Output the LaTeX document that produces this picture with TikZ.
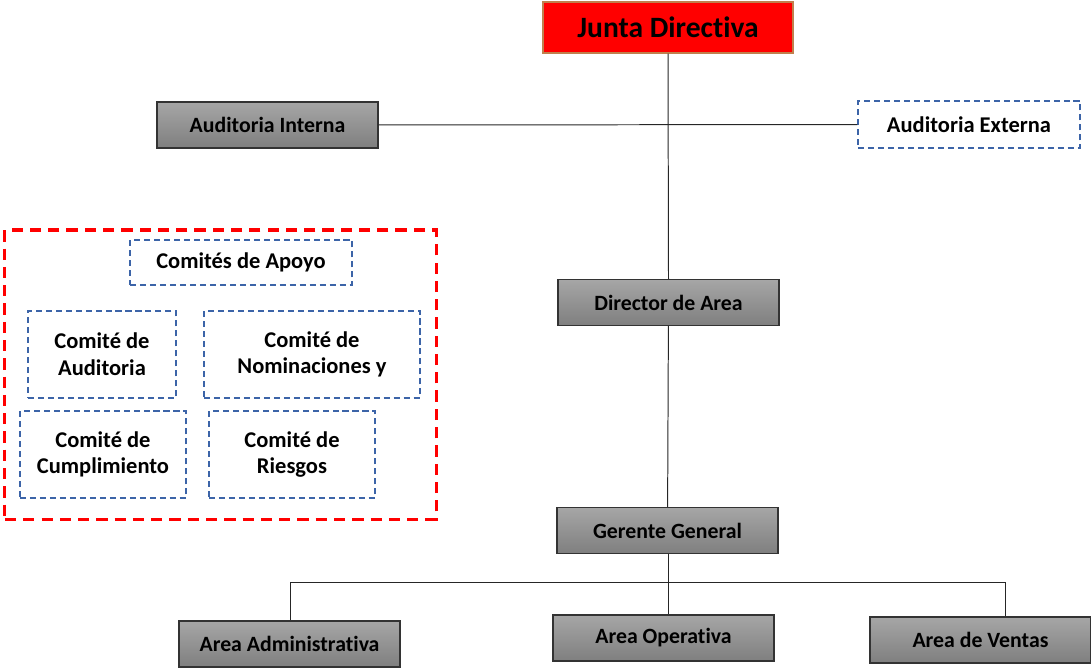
\documentclass[tikz,border=0pt]{standalone}
\usepackage{fontspec}
\setmainfont{Carlito}[Ligatures=NoCommon]
\definecolor{boxtop}{HTML}{A6A6A6}
\definecolor{boxbot}{HTML}{7F7F7F}
\definecolor{dashblue}{HTML}{3C64A8}
\definecolor{juntaedge}{HTML}{C0804D}
\begin{document}
\begin{tikzpicture}[x=0.025cm,y=-0.025cm]

        \useasboundingbox (0,0) rectangle (1091,667);

        \tikzset{graybox/.style={draw=black!80, line width=0.9pt, top color=boxtop, bottom color=boxbot,
                   minimum width=5.525cm, minimum height=1.15cm, font=\fontsize{15.5}{18}\selectfont\bfseries},
                 dashbox/.style={draw=dashblue, line width=1pt, dash pattern=on 4.3pt off 2.8pt, fill=white,
                   align=center, font=\fontsize{16}{19}\selectfont\bfseries}}

        % main chain
        \node[draw=juntaedge, line width=0.9pt, fill=red, minimum width=6.25cm, minimum height=1.275cm,
              font=\fontsize{21}{24}\selectfont\bfseries] (1) at (668,27.5) {Junta Directiva};
        \node[graybox] (2) at (267.5,125) {Auditoria Interna};
        \node[dashbox, minimum width=5.55cm, minimum height=1.175cm] (3) at (969,124.5) {Auditoria Externa};
        \node[graybox] (4) at (668.5,302.5) {Director de Area};
        \node[graybox] (5) at (667.5,530.5) {Gerente General};
        \node[graybox] (6) at (289.5,644) {Area Administrativa};
        \node[graybox] (7) at (663.5,638) {Area Operativa};
        \node[graybox] (8) at (980.5,640) {Area de Ventas};

        % comites
        \node[draw=red, line width=2.2pt, dash pattern=on 8pt off 5pt, minimum width=10.775cm,
              minimum height=7.225cm] (9) at (220.5,374.5) {};
        \begin{scope}[every node/.style={dashbox, minimum height=2.175cm}]
          \node[minimum width=5.55cm, minimum height=1.125cm] (10) at (241,262.5) {Comités de Apoyo};
          \node[minimum width=3.7cm]  (11) at (102,354.5) {Comité de\\Auditoria};
          \node[minimum width=5.4cm]  (12) at (312,354.5) {Comité de\\Nominaciones y};
          \node[minimum width=4.15cm] (13) at (103,454.5) {Comité de\\Cumplimiento};
          \node[minimum width=4.15cm] (14) at (292,454.5) {Comité de\\Riesgos};
        \end{scope}

        \coordinate (a) at (668,582);
        \coordinate (b) at (290,582);
        \coordinate (c) at (1005,582);

        \begin{scope}[every path/.style={draw=black!85, line width=0.7pt}]
          \path (1.south) -- (4.north);
          \path (2) -- (3);
          \path (4) -- (5);
          \path (5.south -| a) -- (7.north -| a);
          \path (b) -- (c);
          \path (b) -- (6.north -| b);
          \path (c) -- (8.north -| c);
        \end{scope}

      \end{tikzpicture}
\end{document}
